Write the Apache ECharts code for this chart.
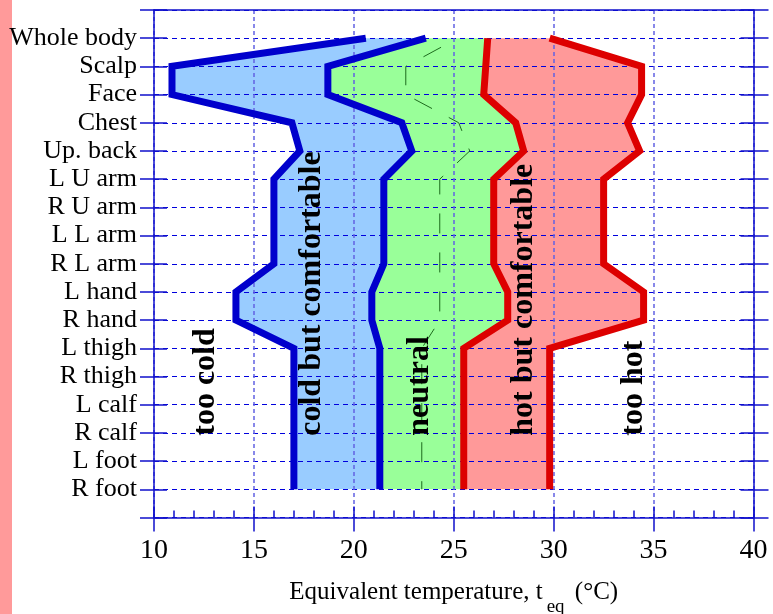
<!DOCTYPE html>
<html>
<head>
<meta charset="utf-8">
<script src="https://cdn.jsdelivr.net/npm/echarts@6/dist/echarts.min.js"></script>
<style>
html, body { margin: 0; padding: 0; background: #fff; }
#chart { width: 773px; height: 614px; }
</style>
</head>
<body>
<div id="chart"></div>
<script>
// Body segments, listed from top to bottom of the chart
const bodyParts = ['Whole body', 'Scalp', 'Face', 'Chest', 'Up. back', 'L U arm', 'R U arm',
  'L L arm', 'R L arm', 'L hand', 'R hand', 'L thigh', 'R thigh', 'L calf', 'R calf', 'L foot', 'R foot'];

// Equivalent temperature (°C) at the boundary between comfort zones, per segment
const tooColdLimit     = [20.6, 10.9, 10.9, 16.9, 17.3, 16.0, 16.0, 16.0, 16.0, 14.1, 14.1, 17.0, 17.0, 17.0, 17.0, 17.0, 17.0];
const coolNeutralLimit = [23.6, 18.7, 18.7, 22.4, 22.9, 21.5, 21.5, 21.5, 21.5, 20.9, 20.9, 21.3, 21.3, 21.3, 21.3, 21.3, 21.3];
const warmNeutralLimit = [26.7, 26.6, 26.5, 28.1, 28.5, 27.0, 27.0, 27.0, 27.0, 27.7, 27.7, 25.5, 25.5, 25.5, 25.5, 25.5, 25.5];
const tooHotLimit      = [29.8, 34.4, 34.4, 33.7, 34.3, 32.5, 32.5, 32.5, 32.5, 34.5, 34.5, 29.8, 29.8, 29.8, 29.8, 29.8, 29.8];

// Neutral temperature per segment (thin dashed line)
const neutralTemp = [25.2, 22.6, 22.6, 25.25, 25.8, 24.3, 24.3, 24.3, 24.3, 24.3, 24.3, 23.4, 23.4, 23.4, 23.4, 23.4, 23.4];

// Zone captions and where they sit (temperature, row where the text starts)
const zoneNames = ['too cold', 'cold but comfortable', 'neutral', 'hot but comfortable', 'too hot'];
const zoneLabelTemp = [12.6, 17.9, 23.3, 28.5, 34.0];
const zoneLabelRow = 15.1;

const SERIF = "'Liberation Serif', 'Times New Roman', serif";
const AXIS_BLUE = '#1010cc';
const LINE_BLUE = '#0000cc';
const LINE_RED = '#dd0000';

// rows are numbered 1..n; rows 0 and n+1 are empty margins
const toPoints = arr => arr.map((v, i) => [v, i + 1]);

const bands = [
  { lo: tooColdLimit, hi: coolNeutralLimit, color: '#99ccff' },
  { lo: coolNeutralLimit, hi: warmNeutralLimit, color: '#99ff99' },
  { lo: warmNeutralLimit, hi: tooHotLimit, color: '#ff9999' }
];

const boundaryLine = (data, color) => ({
  type: 'line',
  data: toPoints(data),
  symbol: 'none',
  z: 5,
  silent: true,
  lineStyle: { color: color, width: 7, join: 'miter', cap: 'butt', miterLimit: 10 }
});

const axisColor = { color: AXIS_BLUE, width: 1.5 };
const rowCount = bodyParts.length + 1;

const option = {
  animation: false,
  backgroundColor: '#ffffff',
  textStyle: { fontFamily: SERIF },
  graphic: [{
    type: 'rect', left: 0, top: 0, z: 0,
    shape: { width: 12, height: 614 },
    style: { fill: '#ff9a9a' }
  }],
  grid: { left: 154, right: 19.5, top: 10, bottom: 96.5, containLabel: false, outerBoundsMode: 'none' },
  xAxis: [
    {
      type: 'value', position: 'bottom', min: 10, max: 40, interval: 5, z: 3,
      axisLine: { show: true, onZero: false, lineStyle: axisColor },
      axisTick: { show: true, inside: false, length: 14, lineStyle: axisColor },
      axisLabel: { fontSize: 28, margin: 19, color: '#000', fontFamily: SERIF },
      splitLine: { show: true, lineStyle: { color: '#6262e2', type: [4, 3], width: 1.5 } },
      name: '{a|Equivalent temperature, t}{s|eq}{a| (°C)}',
      nameLocation: 'middle',
      nameGap: 60,
      nameTextStyle: {
        rich: {
          a: { fontSize: 25, fontFamily: SERIF, color: '#000', lineHeight: 30 },
          s: { fontSize: 19, fontFamily: SERIF, color: '#000', lineHeight: 30,
               verticalAlign: 'top', padding: [20, 4, 0, 4] }
        }
      }
    },
    {
      type: 'value', position: 'bottom', min: 10, max: 40, interval: 5, z: 3,
      axisLine: { show: false, onZero: false },
      axisTick: { show: true, inside: true, length: 11, lineStyle: axisColor },
      minorTick: { show: true, splitNumber: 5, length: 7, lineStyle: axisColor },
      axisLabel: { show: false },
      splitLine: { show: false }
    },
    {
      type: 'value', position: 'top', min: 10, max: 40, interval: 5, z: 3,
      axisLine: { show: true, onZero: false, lineStyle: axisColor },
      axisTick: { show: false },
      axisLabel: { show: false },
      splitLine: { show: false }
    }
  ],
  yAxis: [
    {
      type: 'value', position: 'left', inverse: true, min: 0, max: rowCount, interval: 1, z: 3,
      axisLine: { show: true, onZero: false, lineStyle: axisColor },
      axisTick: { show: true, inside: false, length: 14, lineStyle: axisColor },
      axisLabel: {
        fontSize: 26, margin: 17, color: '#000', fontFamily: SERIF, padding: [0, 0, 6, 0],
        formatter: v => bodyParts[v - 1] || ''
      },
      splitLine: { show: true, lineStyle: { color: '#0000dd', type: [5, 4], width: 1 } }
    },
    {
      type: 'value', position: 'left', inverse: true, min: 0, max: rowCount, interval: 1, z: 3,
      axisLine: { show: false, onZero: false },
      axisTick: { show: true, inside: true, length: 13, lineStyle: axisColor },
      axisLabel: { show: false },
      splitLine: { show: false }
    },
    {
      type: 'value', position: 'right', inverse: true, min: 0, max: rowCount, interval: 1, z: 3,
      axisLine: { show: true, onZero: false, lineStyle: axisColor },
      axisTick: { show: true, inside: false, length: 15, lineStyle: axisColor },
      axisLabel: { show: false },
      splitLine: { show: false }
    },
    {
      type: 'value', position: 'right', inverse: true, min: 0, max: rowCount, interval: 1, z: 3,
      axisLine: { show: false, onZero: false },
      axisTick: { show: true, inside: true, length: 13, lineStyle: axisColor },
      axisLabel: { show: false },
      splitLine: { show: false }
    }
  ],
  series: [
    {
      // shaded comfort zones between neighbouring boundaries
      type: 'custom',
      z: 1,
      silent: true,
      data: bands.map(b => [b.lo[0], 1]),
      renderItem: (params, api) => {
        const band = bands[params.dataIndex];
        const left = band.lo.map((v, i) => api.coord([v, i + 1]));
        const right = band.hi.map((v, i) => api.coord([v, i + 1])).reverse();
        return {
          type: 'polygon',
          shape: { points: left.concat(right) },
          style: { fill: band.color }
        };
      }
    },
    boundaryLine(tooColdLimit, LINE_BLUE),
    boundaryLine(coolNeutralLimit, LINE_BLUE),
    boundaryLine(warmNeutralLimit, LINE_RED),
    boundaryLine(tooHotLimit, LINE_RED),
    {
      type: 'line',
      data: toPoints(neutralTemp),
      symbol: 'none',
      z: 4,
      silent: true,
      lineStyle: { color: '#1d6b1d', width: 1, type: [20, 19], dashOffset: 20 }
    },
    {
      // zone captions, written bottom-to-top
      type: 'scatter',
      z: 6,
      silent: true,
      symbolSize: 0,
      data: zoneNames.map((n, i) => ({ name: n, value: [zoneLabelTemp[i], zoneLabelRow] })),
      label: {
        show: true,
        position: 'inside',
        formatter: '{b}',
        rotate: 90,
        align: 'left',
        verticalAlign: 'middle',
        fontSize: 32,
        fontWeight: 700,
        fontFamily: SERIF,
        color: '#000000',
        opacity: 1,
        textBorderWidth: 0
      }
    }
  ]
};

const chart = echarts.init(document.getElementById('chart'), null, { renderer: 'canvas' });
chart.setOption(option);
</script>
</body>
</html>
